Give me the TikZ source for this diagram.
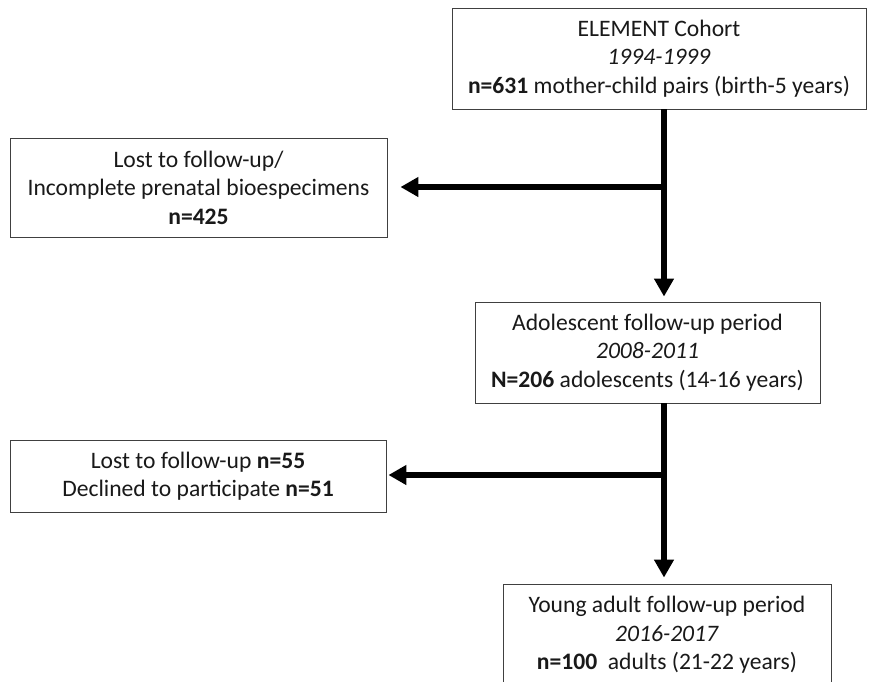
\documentclass[tikz,border=0pt]{standalone}
\usepackage{fontspec}
\setmainfont{Carlito}
\usepackage{xcolor}
\usetikzlibrary{arrows.meta}

\begin{document}
\begin{tikzpicture}[x=1pt,y=-1pt,
  box/.style={draw=black!75, line width=0.9pt, align=center, inner sep=0pt,
    text=black!90, font=\fontsize{23.6}{28.5}\selectfont},
  flow/.style={line width=5.5pt, -{Triangle[length=18pt,width=19pt]}}]
\fill[white] (0,0) rectangle (869,681);
\useasboundingbox (0,0) rectangle (869,681);
\node[box, minimum width=414pt, minimum height=101pt] (cohort) at (659,58.5)
  {ELEMENT Cohort\\ \textit{1994-1999}\\ \textbf{n=631} mother-child pairs (birth-5 years)};
\node[box, minimum width=377pt, minimum height=99pt] (lost1) at (198.5,187.5)
  {Lost to follow-up/\\ Incomplete prenatal bioespecimens\\ \textbf{n=425}};
\node[box, minimum width=345pt, minimum height=101pt] (adol) at (647.5,352.5)
  {Adolescent follow-up period\\ \textit{2008-2011}\\ \textbf{N=206} adolescents (14-16 years)};
\node[box, minimum width=376pt, minimum height=72pt] (lost2) at (198,476)
  {Lost to follow-up \textbf{n=55}\\ Declined to participate \textbf{n=51}};
\node[box, minimum width=328pt, minimum height=102pt] (young) at (667,635)
  {Young adult follow-up period\\ \textit{2016-2017}\\ \textbf{n=100}~ adults (21-22 years)};
\coordinate (s1) at (664,0);
\coordinate (b1) at (664,187);
\coordinate (b2) at (664,475);
\draw[flow, shorten >=5pt] (s1 |- cohort.south) -- (s1 |- adol.north);
\draw[flow, shorten >=13pt] (b1) -- (b1 -| lost1.east);
\draw[flow, shorten >=6pt] (s1 |- adol.south) -- (s1 |- young.north);
\draw[flow, shorten >=2pt] (b2) -- (b2 -| lost2.east);
\end{tikzpicture}
\end{document}
